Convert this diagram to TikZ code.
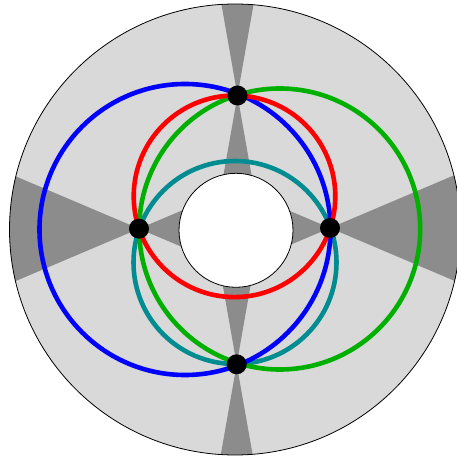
\documentclass[tikz,border=0pt]{standalone}
\usetikzlibrary{calc}
\begin{document}
\begin{tikzpicture}[x=1pt,y=1pt,
  curve/.style={line width=4.6pt},
  dotnode/.style={circle,fill=black,inner sep=0pt,minimum size=20pt},
  wedge/.style={fill=darkg}]
\definecolor{lightg}{RGB}{217,217,217}
\definecolor{darkg}{RGB}{140,140,140}
\definecolor{myred}{RGB}{255,0,0}
\definecolor{myblue}{RGB}{0,0,255}
\definecolor{mygreen}{RGB}{0,176,0}
\definecolor{myteal}{RGB}{0,140,145}
\useasboundingbox (0,0) rectangle (456,458);
\coordinate (O) at (235,228.5);
\coordinate (I) at (236,227.7);
\coordinate (T) at (237.5,362.5);
\coordinate (B) at (236.7,93.7);
\coordinate (L) at (139,229.3);
\coordinate (R) at (330,230);
% disc
\fill[lightg] (O) circle[radius=225.5pt];
\begin{scope}
\clip (O) circle[radius=225.5pt];
\fill[wedge] (T) -- ($(T)+(80:150)$) -- ($(T)+(100:150)$) -- cycle;
\fill[wedge] (T) -- ($(T)+(260:136)$) -- ($(T)+(280:136)$) -- cycle;
\fill[wedge] (B) -- ($(B)+(260:150)$) -- ($(B)+(280:150)$) -- cycle;
\fill[wedge] (B) -- ($(B)+(80:136)$) -- ($(B)+(100:136)$) -- cycle;
\fill[wedge] (L) -- ($(L)+(157:200)$) -- ($(L)+(203:200)$) -- cycle;
\fill[wedge] (L) -- ($(L)+(-23:104)$) -- ($(L)+(23:104)$) -- cycle;
\fill[wedge] (R) -- ($(R)+(-23:200)$) -- ($(R)+(23:200)$) -- cycle;
\fill[wedge] (R) -- ($(R)+(157:104)$) -- ($(R)+(203:104)$) -- cycle;
\end{scope}
\draw[line width=0.8pt] (O) circle[radius=225.5pt];
\fill[white,draw=black,line width=0.8pt] (I) circle[radius=57pt];
% curves
\draw[curve,myteal] (235,195.5) circle[radius=101.5pt];
\draw[curve,mygreen] (279.7,229) circle[radius=140.5pt];
\draw[curve,myblue] (185,228.5) circle[radius=145.5pt];
\draw[curve,myred] (234.5,261.7) circle[radius=100.8pt];
% dots
\node[dotnode] (t) at (T) {};
\node[dotnode] (b) at (B) {};
\node[dotnode] (l) at (L) {};
\node[dotnode] (r) at (R) {};
\end{tikzpicture}
\end{document}
